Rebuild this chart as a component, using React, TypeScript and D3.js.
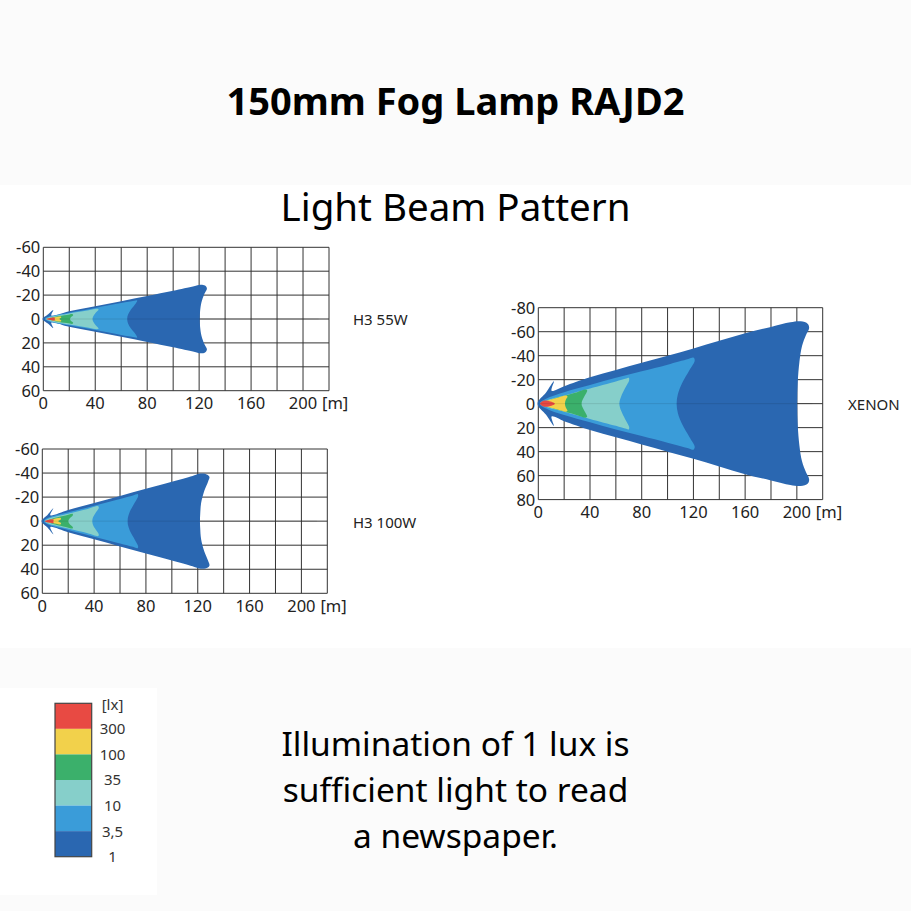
import React from "react";
import * as d3 from "d3";

type Pt = [number, number];

// ---------- data ----------
const xTickValues = [0, 40, 80, 120, 160, 200];
const xGridValues = [0, 20, 40, 60, 80, 100, 120, 140, 160, 180, 200, 220];
const smallYTicks = [-60, -40, -20, 0, 20, 40, 60];
const xenonYTicks = [-80, -60, -40, -20, 0, 20, 40, 60, 80];

const luxLabels = ["300", "100", "35", "10", "3,5", "1"];
const luxColors = ["#e84a43", "#f2d14b", "#3bb06b", "#86cfca", "#3a9cd9", "#2a67b1"];

const chartLabels = ["H3 55W", "H3 100W", "XENON"];

// Upper-half iso-lux profiles [distance m, lateral m] (mirrored for lower half)
const h55Lux1: Pt[] = [[-0.6, 0], [3.5, -3.8], [7.7, -7.6], [6.2, -2.9], [20, -6.5], [40, -10.6], [60, -14.9], [80, -19.2], [100, -23.6], [116, -27.4], [121, -28.7], [124.5, -28], [126, -25.5], [124, -21], [121.8, -14], [120.7, -6], [120.5, 0]];
const h55Lux3_5: Pt[] = [[1, 0], [5, -2.2], [20, -5.3], [40, -9.3], [60, -13.3], [70, -15.2], [72.3, -15.5], [71.2, -13], [67.5, -8], [65.2, -3.5], [64.6, 0]];
const h55Lux10: Pt[] = [[2, 0], [5, -1.6], [20, -4.7], [35, -7.4], [41.5, -8.6], [42.6, -8], [40.2, -5], [38.4, -2], [37.9, 0]];
const h55Lux35: Pt[] = [[4, 0], [10, -2], [18, -3.3], [22.6, -4], [23, -3.2], [21.2, -1.5], [20.6, 0]];
const h55Lux100: Pt[] = [[3, 0], [8, -1.3], [13.6, -2], [13.8, -1.2], [12.4, 0]];
const h55Lux300: Pt[] = [[2.5, 0], [5, -0.9], [8.8, -1.1], [9, -0.4], [8.5, 0]];

const h100Lux1: Pt[] = [[-0.6, 0], [4, -5.2], [8.5, -10.8], [6.2, -5], [20, -9.3], [40, -15.1], [60, -21], [80, -26.9], [100, -32.8], [116, -37.6], [121, -39.4], [126, -39.3], [129, -37], [128, -33], [125, -25], [122.6, -15], [121.9, -6], [121.7, 0]];
const h100Lux3_5: Pt[] = [[1, 0], [5, -3], [20, -7.3], [40, -12.9], [60, -18.5], [70, -21.3], [73.6, -22.5], [74, -21], [71.2, -15], [67.6, -8], [66.1, -3], [65.9, 0]];
const h100Lux10: Pt[] = [[2, 0], [5, -2.2], [20, -6.2], [35, -10.1], [43.2, -12.4], [43.6, -11], [41.2, -7], [39.1, -3], [38.6, 0]];
const h100Lux35: Pt[] = [[4, 0], [10, -2.8], [18, -4.8], [23.4, -6.1], [23.6, -5], [21.2, -2.5], [20.1, 0]];
const h100Lux100: Pt[] = [[3, 0], [8, -1.6], [14.2, -2.6], [14.4, -1.5], [12.4, 0]];
const h100Lux300: Pt[] = [[2, 0], [5, -1.2], [8.5, -1.5], [8.8, -0.6], [8.3, 0]];

const xenLux1: Pt[] = [[-0.6, 0], [6, -9.3], [12.1, -18.6], [10.3, -10.8], [20, -14.6], [40, -22], [60, -28], [80, -34], [100, -40], [120, -46], [140, -52.4], [160, -58.8], [180, -64], [195, -67.8], [203, -68.6], [208.5, -66.5], [209.5, -63], [207, -57], [204, -48], [202, -35], [200.7, -18], [200.3, 0]];
const xenLux3_5: Pt[] = [[1, 0], [6, -4], [20, -9.5], [40, -15.5], [60, -21.5], [80, -27], [100, -32.5], [116, -37.2], [120, -38.4], [121, -36], [117, -28], [111.2, -17], [108, -8], [107, 0]];
const xenLux10: Pt[] = [[2, 0], [6, -2.6], [20, -6.8], [40, -12.7], [60, -18.5], [68, -21], [70, -21.5], [70.3, -19.5], [67.2, -13], [64.1, -6], [62.7, 0]];
const xenLux35: Pt[] = [[4, 0], [10, -3.5], [20, -6.6], [30, -9.6], [36.5, -11.7], [37.8, -11], [35.6, -6], [33.8, -2], [33.5, 0]];
const xenLux100: Pt[] = [[3, 0], [8, -2.8], [15, -4.9], [21.5, -6.7], [22.6, -6], [21.2, -3], [20.6, 0]];
const xenLux300: Pt[] = [[1.3, 0], [4, -2.4], [8, -2.3], [12.9, 0]];

const h55Contours = [h55Lux1, h55Lux3_5, h55Lux10, h55Lux35, h55Lux100, h55Lux300];
const h100Contours = [h100Lux1, h100Lux3_5, h100Lux10, h100Lux35, h100Lux100, h100Lux300];
const xenContours = [xenLux1, xenLux3_5, xenLux10, xenLux35, xenLux100, xenLux300];

// ---------- layout ----------
type ChartCfg = {
  label: string;
  box: { l: number; r: number; t: number; b: number };
  yTicks: number[];
  contours: Pt[][];
};

const charts: ChartCfg[] = [
  { label: chartLabels[0], box: { l: 43.3, r: 329, t: 247.3, b: 390.7 }, yTicks: smallYTicks, contours: h55Contours },
  { label: chartLabels[1], box: { l: 42.3, r: 327.3, t: 449, b: 593.3 }, yTicks: smallYTicks, contours: h100Contours },
  { label: chartLabels[2], box: { l: 538.3, r: 822.7, t: 307.7, b: 499.6 }, yTicks: xenonYTicks, contours: xenContours },
];

const labelX = [353, 353, 848];

const fullOutline = (half: Pt[]): Pt[] => {
  const lower = half
    .slice(1, -1)
    .reverse()
    .map(([x, y]) => [x, -y] as Pt);
  return [...half, ...lower];
};

const FONT = "'Noto Sans', 'Open Sans', sans-serif";

function BeamChart({ cfg, labelXPos }: { cfg: ChartCfg; labelXPos: number }) {
  const { box, yTicks, contours, label } = cfg;
  const x = d3.scaleLinear().domain([0, 220]).range([box.l, box.r]);
  const yMin = yTicks[0];
  const yMax = yTicks[yTicks.length - 1];
  const y = d3.scaleLinear().domain([yMin, yMax]).range([box.t, box.b]);
  const line = d3
    .line<Pt>()
    .x((d) => x(d[0]))
    .y((d) => y(d[1]))
    .curve(d3.curveCatmullRomClosed.alpha(0.5));
  const layerColors = luxColors.slice().reverse();
  const gridColor = "#333";
  return (
    <g>
      {xGridValues.map((v) => (
        <line key={"vx" + v} x1={x(v)} x2={x(v)} y1={box.t} y2={box.b} stroke={gridColor} strokeWidth={1} />
      ))}
      {yTicks.map((v) => (
        <line key={"hy" + v} x1={box.l} x2={box.r} y1={y(v)} y2={y(v)} stroke={gridColor} strokeWidth={1} />
      ))}
      {contours.map((c, i) => (
        <path key={"c" + i} d={line(fullOutline(c)) || ""} fill={layerColors[i]} stroke="none" />
      ))}
      <line x1={box.l} x2={x(212)} y1={y(0)} y2={y(0)} stroke="#000" strokeOpacity={0.1} strokeWidth={1} />
      {yTicks.map((v) => (
        <text
          key={"yl" + v}
          x={box.l - 3}
          y={y(v)}
          dy="0.36em"
          textAnchor="end"
          fontFamily={FONT}
          fontSize={16.5}
          fill="#222"
        >
          {v}
        </text>
      ))}
      {xTickValues.map((v) => (
        <text
          key={"xl" + v}
          x={x(v)}
          y={box.b + 18.5}
          textAnchor="middle"
          fontFamily={FONT}
          fontSize={16.5}
          fill="#222"
        >
          {v}
        </text>
      ))}
      <text x={x(200) + 19} y={box.b + 18.5} textAnchor="start" fontFamily={FONT} fontSize={16.5} fill="#222">
        [m]
      </text>
      <text x={labelXPos} y={y(0) + 1} dy="0.36em" fontFamily={FONT} fontSize={15} fill="#222">
        {label}
      </text>
    </g>
  );
}

function Legend() {
  const top = 703.3;
  const bottom = 856.7;
  const x0 = 55;
  const x1 = 91.7;
  const band = d3.scaleBand<string>().domain(luxLabels).range([top, bottom]).padding(0);
  return (
    <g>
      {luxLabels.map((l, i) => (
        <rect key={"lg" + l} x={x0} y={band(l)} width={x1 - x0} height={band.bandwidth()} fill={luxColors[i]} />
      ))}
      <rect x={x0} y={top} width={x1 - x0} height={bottom - top} fill="none" stroke="#444" strokeWidth={1.2} />
      <text x={112.5} y={top + 1.5} dy="0.36em" textAnchor="middle" fontFamily={FONT} fontSize={15} fill="#333">
        [lx]
      </text>
      {luxLabels.map((l) => (
        <text
          key={"ll" + l}
          x={112.5}
          y={(band(l) as number) + band.bandwidth()}
          dy="0.36em"
          textAnchor="middle"
          fontFamily={FONT}
          fontSize={15}
          fill="#333"
        >
          {l}
        </text>
      ))}
    </g>
  );
}

const titleText = "150mm Fog Lamp RAJD2";
const subtitleText = "Light Beam Pattern";
const noteLines = ["Illumination of 1 lux is", "sufficient light to read", "a newspaper."];

export default function App() {
  return (
    <>
      <style>{"body{margin:0;}"}</style>
      <svg width={911} height={911} viewBox="0 0 911 911" style={{ display: "block" }}>
        <rect x={0} y={0} width={911} height={911} fill="#fbfbfb" />
        <rect x={0} y={185} width={911} height={463} fill="#ffffff" />
        <rect x={0} y={688} width={157} height={207} fill="#ffffff" />
        <text x={455.5} y={115} textAnchor="middle" fontFamily={FONT} fontWeight={700} fontSize={38} fill="#000">
          {titleText}
        </text>
        <text x={455.5} y={221} textAnchor="middle" fontFamily={FONT} fontSize={38.5} fill="#000">
          {subtitleText}
        </text>
        {charts.map((c, i) => (
          <BeamChart key={c.label} cfg={c} labelXPos={labelX[i]} />
        ))}
        <Legend />
        {noteLines.map((t, i) => (
          <text key={t} x={455.5} y={756 + i * 46} textAnchor="middle" fontFamily={FONT} fontSize={33.5} fill="#000">
            {t}
          </text>
        ))}
      </svg>
    </>
  );
}
